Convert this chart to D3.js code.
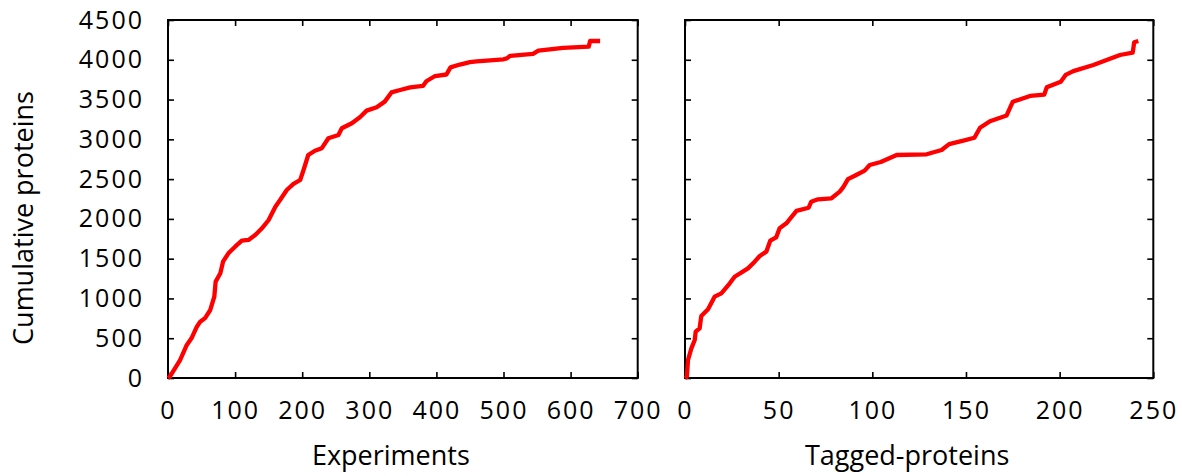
<!DOCTYPE html>
<html><head><meta charset="utf-8">
<script src="https://cdn.jsdelivr.net/npm/d3@7"></script>
<style>
body{margin:0;background:#fff}
svg text{font-family:"Open Sans",sans-serif;fill:#000;font-weight:500}
.tick text{font-size:25px;letter-spacing:2px}
.title{font-size:27px}
</style>
</head><body><svg id="c" width="1182" height="476"></svg>
<script>
// Experiments panel (cumulative proteins vs number of experiments)
const expX = [0, 3, 18, 28, 35, 43, 48, 55, 63, 69, 71, 78, 82, 90, 100, 110, 120, 130, 140, 150, 160, 167, 177, 187, 197, 202, 209, 219, 229, 239, 254, 259, 274, 286, 296, 311, 323, 333, 346, 361, 380, 385, 398, 415, 421, 435, 450, 460, 500, 505, 510, 544, 552, 589, 627, 629, 644];
const expY = [0, 20, 226, 415, 499, 645, 708, 750, 855, 1022, 1211, 1316, 1462, 1567, 1651, 1726, 1735, 1798, 1882, 1986, 2153, 2237, 2363, 2439, 2489, 2615, 2803, 2857, 2887, 3013, 3054, 3139, 3202, 3277, 3361, 3403, 3474, 3590, 3620, 3654, 3671, 3730, 3796, 3815, 3905, 3940, 3970, 3980, 4006, 4018, 4050, 4075, 4114, 4150, 4165, 4236, 4236];
// Tagged-proteins panel
const tagX = [0, 1, 1.6, 3.4, 5.2, 5.7, 7.8, 8.7, 12.3, 15.8, 19.4, 23.9, 26.5, 33.6, 37.2, 39.9, 43.4, 45.5, 48.7, 50.5, 54.1, 59.5, 66, 67.4, 71, 78.2, 82.6, 84.5, 87, 91.4, 95.9, 98.6, 104.5, 113, 129, 137, 141, 148.6, 154.5, 157.5, 162.8, 171.7, 175, 184.2, 191.8, 193.1, 200.6, 203.2, 207.3, 218, 225.1, 232.2, 239, 239.8, 242];
const tagY = [0, 17, 226, 373, 478, 582, 624, 779, 863, 1022, 1064, 1190, 1273, 1378, 1462, 1534, 1588, 1726, 1768, 1882, 1944, 2100, 2140, 2216, 2246, 2259, 2342, 2400, 2500, 2552, 2606, 2677, 2715, 2803, 2812, 2866, 2940, 2983, 3020, 3145, 3228, 3300, 3473, 3545, 3562, 3654, 3725, 3810, 3857, 3934, 3997, 4060, 4089, 4220, 4236];

const yTicks = [0, 500, 1000, 1500, 2000, 2500, 3000, 3500, 4000, 4500];
const expTicks = [0, 100, 200, 300, 400, 500, 600, 700];
const tagTicks = [0, 50, 100, 150, 200, 250];
const yTitle = "Cumulative proteins";
const xTitles = ["Experiments", "Tagged-proteins"];

const svg = d3.select("#c");
const plotTop = 20, plotBottom = 378;
const y = d3.scaleLinear().domain([0, 4500]).range([plotBottom, plotTop]);

const panels = [
  {xs: expX, ys: expY, domain: [0, 700], range: [168, 637.7], ticks: expTicks, title: xTitles[0], yLabels: true},
  {xs: tagX, ys: tagY, domain: [0, 250], range: [685, 1153.3], ticks: tagTicks, title: xTitles[1], yLabels: false}
];

panels.forEach(p => {
  const x = d3.scaleLinear().domain(p.domain).range(p.range);
  const g = svg.append("g");

  const styleAxis = sel => {
    sel.select(".domain").remove();
    sel.selectAll(".tick line").attr("stroke", "#000").attr("stroke-width", 1.6);
  };

  g.append("g").attr("transform", `translate(0,${plotBottom})`)
    .call(d3.axisBottom(x).tickValues(p.ticks).tickSize(-6).tickSizeOuter(0).tickPadding(23).tickFormat(d3.format("d")))
    .call(styleAxis);
  g.append("g").attr("transform", `translate(0,${plotTop})`)
    .call(d3.axisTop(x).tickValues(p.ticks).tickSize(-6).tickSizeOuter(0).tickFormat(""))
    .call(styleAxis);
  g.append("g").attr("transform", `translate(${p.range[0]},0)`)
    .call(d3.axisLeft(y).tickValues(yTicks).tickSize(-6).tickSizeOuter(0).tickPadding(24)
      .tickFormat(p.yLabels ? d3.format("d") : ""))
    .call(styleAxis);
  g.append("g").attr("transform", `translate(${p.range[1]},0)`)
    .call(d3.axisRight(y).tickValues(yTicks).tickSize(-6).tickSizeOuter(0).tickFormat(""))
    .call(styleAxis);

  g.selectAll(".tick text").attr("font-family", null).attr("font-size", null);

  g.append("rect")
    .attr("x", p.range[0]).attr("y", plotTop)
    .attr("width", p.range[1] - p.range[0]).attr("height", plotBottom - plotTop)
    .attr("fill", "none").attr("stroke", "#000").attr("stroke-width", 2);

  const line = d3.line().x((d, i) => x(p.xs[i])).y((d, i) => y(p.ys[i]));
  g.append("path").datum(p.ys)
    .attr("d", line)
    .attr("fill", "none").attr("stroke", "#ff0000").attr("stroke-width", 4.3)
    .attr("stroke-linejoin", "round").attr("stroke-linecap", "butt");

  g.append("text").attr("class", "title")
    .attr("x", (p.range[0] + p.range[1]) / 2 - 12).attr("y", 465)
    .attr("text-anchor", "middle").text(p.title);
});

svg.append("text").attr("class", "title")
  .attr("transform", "translate(33,218) rotate(-90)")
  .attr("text-anchor", "middle").text(yTitle);
</script>
</body></html>
